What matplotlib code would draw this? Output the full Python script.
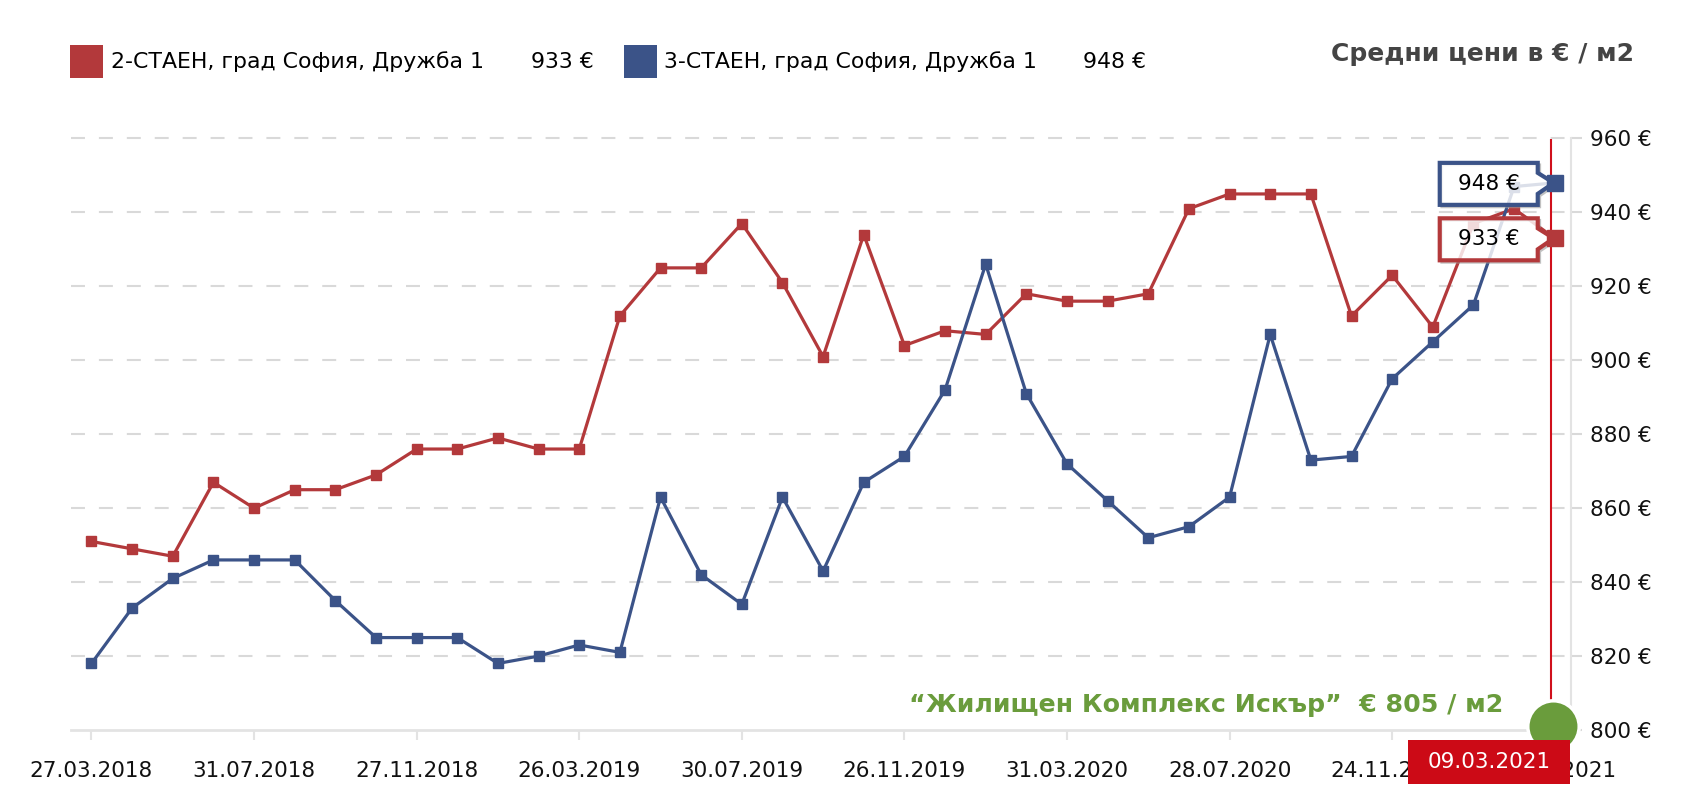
import matplotlib.pyplot as plt
from matplotlib.patches import Rectangle, Polygon
from matplotlib import transforms

## Monthly average prices (EUR / m2)
red_vals = [851, 849, 847, 867, 860, 865, 865, 869, 876, 876,
            879, 876, 876, 912, 925, 925, 937, 921, 901, 934,
            904, 908, 907, 918, 916, 916, 918, 941, 945, 945,
            945, 912, 923, 909, 937, 941, 933]
blue_vals = [818, 833, 841, 846, 846, 846, 835, 825, 825, 825,
             818, 820, 823, 821, 863, 842, 834, 863, 843, 867,
             874, 892, 926, 891, 872, 862, 852, 855, 863, 907,
             873, 874, 895, 905, 915, 947, 948]
tick_labels = ['27.03.2018', '31.07.2018', '27.11.2018', '26.03.2019',
               '30.07.2019', '26.11.2019', '31.03.2020', '28.07.2020',
               '24.11.2020', '23.03.2021']
red_name = '2-СТАЕН, град София, Дружба 1'
blue_name = '3-СТАЕН, град София, Дружба 1'
complex_price = 805
hover_date = '09.03.2021'

RED = '#b3393b'
BLUE = '#3b5388'
GREEN = '#6a9c3c'
W, H = 1702, 810

def fx(px):
    return px / W

def fy(py):
    return 1 - py / H

fig = plt.figure(figsize=(W / 100, H / 100), dpi=100)
ax = fig.add_axes([fx(71), fy(730), (1571 - 71) / W, (730 - 138.5) / H])

x = list(range(len(red_vals)))
ax.plot(x, red_vals, color=RED, lw=2.3, marker='s', ms=7, zorder=3)
ax.plot(x, blue_vals, color=BLUE, lw=2.3, marker='s', ms=7, zorder=3)

ax.set_xlim(-0.504, 36.40)
ax.set_ylim(800, 960)
ax.set_yticks(range(800, 961, 20))
ax.set_yticklabels([f'{v} €' for v in range(800, 961, 20)])
ax.yaxis.tick_right()
ax.set_xticks(range(0, len(red_vals), 4))
ax.set_xticklabels(tick_labels)

## dashed horizontal grid (not on the 800 baseline)
for v in range(820, 961, 20):
    ax.axhline(v, color='#d9d9d9', lw=1.5, ls=(0, (6.7, 6.7)), zorder=1,
               clip_on=False)

for s in ['top', 'left']:
    ax.spines[s].set_visible(False)
ax.spines['bottom'].set_color('#e3e3e3')
ax.spines['bottom'].set_linewidth(2)
ax.spines['right'].set_color('#e3e3e3')
ax.spines['right'].set_linewidth(1.5)
ax.tick_params(axis='y', length=8, width=1.5, color='#d9d9d9', pad=6,
               labelsize=15.5, labelcolor='#111111')
ax.tick_params(axis='x', length=7.5, width=1.5, color='#e3e3e3', pad=15,
               labelsize=15.5, labelcolor='#111111')

## crosshair at the hovered date
cx = (1551 - 91.5) / 40.65
ax.axvline(cx, color='#d0101c', lw=1.5, zorder=2)

## tooltips for the last values
def tooltip(xv, yv, text, color):
    off = transforms.ScaledTranslation(xv, yv, ax.transData)
    tr = fig.dpi_scale_trans + off
    pts = [(-115, 20), (-17, 20), (-17, 10), (-1, 0), (-17, -11),
           (-17, -22), (-115, -22)]
    pts = [(a / 100, b / 100) for a, b in pts]
    sh = [(a + 0.02, b - 0.02) for a, b in pts]
    ax.add_patch(Polygon(sh, closed=True, transform=tr, fc='none',
                         ec='#999999', lw=2, alpha=0.6, zorder=4, clip_on=False))
    ax.add_patch(Polygon(pts, closed=True, transform=tr, fc='white',
                         alpha=0.82, ec='none', zorder=4, clip_on=False))
    ax.add_patch(Polygon(pts, closed=True, transform=tr, fc='none',
                         ec=color, lw=3, zorder=5, clip_on=False))
    ax.text(-0.66, -0.01, text, transform=tr, ha='center', va='center',
            fontsize=15.5, color='black', zorder=6)

tooltip(x[-1], blue_vals[-1], f'{blue_vals[-1]} €', BLUE)
tooltip(x[-1], red_vals[-1], f'{red_vals[-1]} €', RED)
ax.plot([x[-1]], [blue_vals[-1]], 's', color=BLUE, ms=11, zorder=7, clip_on=False)
ax.plot([x[-1]], [red_vals[-1]], 's', color=RED, ms=11, zorder=7, clip_on=False)

## green marker and label for the complex
ax.plot([(1553 - 91.5) / 40.65], [801], 'o', ms=37, color=GREEN, mec='white',
        mew=2.5, zorder=8, clip_on=False)
fig.text(fx(1503), fy(705), f'“Жилищен Комплекс Искър”  € {complex_price} / м2',
         ha='right', va='center', fontsize=18.2, fontweight='bold', color=GREEN)

## hovered date label
fig.patches.append(Rectangle((fx(1408), fy(784)), (1570 - 1408) / W, 44 / H,
                             transform=fig.transFigure, fc='#cc0a16', ec='none',
                             zorder=10))
fig.text(fx(1489), fy(762), hover_date, ha='center', va='center',
         fontsize=15.5, color='white', zorder=11)

## legend and title
fig.patches.append(Rectangle((fx(70), fy(78)), 33 / W, 33 / H,
                             transform=fig.transFigure, fc=RED, ec='none'))
fig.text(fx(111), fy(62), red_name, ha='left', va='center', fontsize=15.8)
fig.text(fx(531), fy(62), f'{red_vals[-1]} €', ha='left', va='center', fontsize=15.8)
fig.patches.append(Rectangle((fx(624), fy(78)), 33 / W, 33 / H,
                             transform=fig.transFigure, fc=BLUE, ec='none'))
fig.text(fx(664), fy(62), blue_name, ha='left', va='center', fontsize=15.8)
fig.text(fx(1083), fy(62), f'{blue_vals[-1]} €', ha='left', va='center', fontsize=15.8)
fig.text(fx(1634), fy(54), 'Средни цени в € / м2', ha='right', va='center',
         fontsize=18, fontweight='bold', color='#444444')

plt.savefig('out.png', dpi=100)
plt.close()
